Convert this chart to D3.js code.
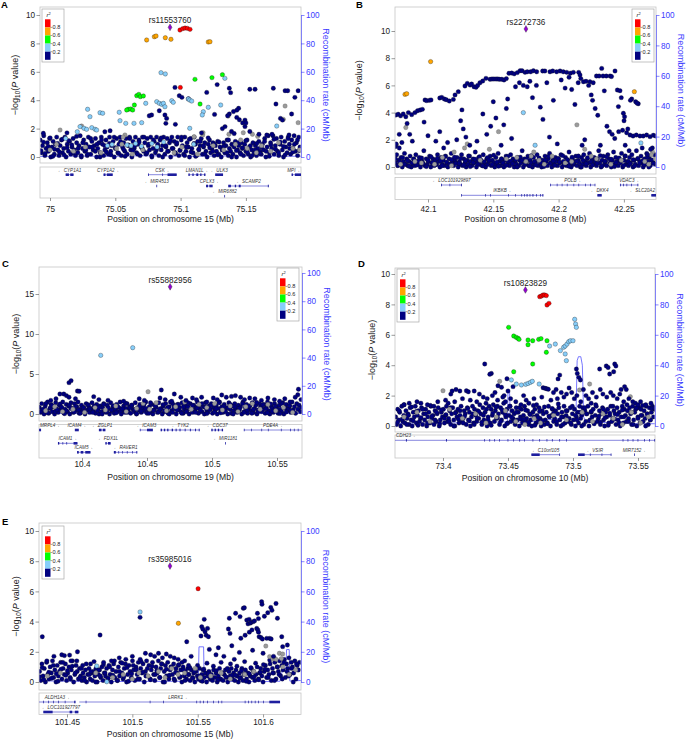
<!DOCTYPE html>
<html>
<head>
<meta charset="utf-8">
<script src="https://cdn.jsdelivr.net/npm/d3@7"></script>
<style>
  body { margin: 0; background: #fff; }
  text { font-family: "Liberation Sans", Arial, sans-serif; }
</style>
</head>
<body>
<svg id="fig" width="686" height="740"></svg>
<script>
// ---------- data ----------
const yTicks10 = [0, 2, 4, 6, 8, 10];
const yTicks15 = [0, 5, 10, 15];
const recTicks = [0, 20, 40, 60, 80, 100];
const ldBreaks = [0.8, 0.6, 0.4, 0.2];

// panel A: chr15, rs11553760
const xTicksA = [75, 75.05, 75.1, 75.15];
const aLead = [75.0919, 9.13];
const aRed = [[75.0995,8.94],[75.1016,9.04],[75.1034,9.08],[75.1052,9.06],[75.1072,8.99],[75.0998,4.9]];
const aOrange = [[75.0740,8.24],[75.0799,8.47],[75.0812,8.52],[75.0883,8.40],[75.0926,8.29],[75.1212,8.10],[75.1225,8.12]];
const aGreen = [[75.1110,5.47],[75.1240,5.59],[75.1320,5.80],[75.1149,3.73],[75.0664,4.32],[75.0680,4.41],[75.0692,4.25],[75.0715,4.30],[75.0646,3.66],[75.0600,3.36],[75.0618,3.38],[75.0587,3.31],[75.0633,3.31]];
const aBlue = [[75.0850,5.94],[75.0883,5.85],[75.1339,5.54],[75.0288,3.36],[75.0306,2.84],[75.0383,3.12],[75.0403,3.08],[75.0530,3.15],[75.0536,2.56],[75.0580,2.37],[75.0643,2.37],[75.0702,2.42],[75.0733,3.78],[75.0817,3.90],[75.0837,3.78],[75.0855,3.71],[75.0868,3.78],[75.0880,3.54],[75.0932,3.97],[75.0944,3.85],[75.1059,4.08],[75.1070,4.01],[75.1085,3.94],[75.1174,3.19],[75.1166,2.96],[75.1212,3.50],[75.1307,3.66],[75.1070,2.02],[75.0230,2.14],[75.0260,2.02],[75.0280,1.95],[75.0320,2.07],[75.0345,1.95],[75.0357,1.90],[75.0209,1.78],[75.1736,2.18],[75.0590,0.85],[75.0620,0.80],[75.0655,0.95],[75.0700,0.75],[75.0780,0.95],[75.0820,0.70],[75.0870,1.05],[75.1100,0.90],[75.0440,0.80],[75.0475,0.88],[75.0120,1.30]];
const aNavyHigh = [[75.0957,4.90],[75.0990,4.32],[75.0778,2.96],[75.0837,3.26],[75.0880,2.96],[75.0893,2.72],[75.0887,2.37],[75.1200,4.55],[75.1280,5.10],[75.1373,4.84],[75.1383,4.53],[75.1444,3.43],[75.1430,3.30],[75.1405,3.20],[75.1373,3.03],[75.1360,2.90],[75.1340,2.14],[75.1430,2.79],[75.1450,2.62],[75.1493,2.60],[75.1475,2.40],[75.1493,2.14],[75.1500,2.40],[75.1530,4.77],[75.1570,4.77],[75.1710,4.84],[75.1800,4.67],[75.1820,4.67],[75.1875,4.20],[75.1900,4.67],[75.1730,3.73],[75.1765,2.72],[75.1780,2.60],[75.1850,3.03],[74.9949,1.67],[75.0420,1.78],[75.0460,1.85],[75.0130,1.70],[75.1010,4.20],[75.1060,4.10],[75.0760,2.90],[75.0960,2.30],[75.1260,3.00],[75.1320,2.00],[75.1390,1.80],[75.1410,1.65],[75.1160,1.70],[75.1530,1.80],[75.1600,1.60],[75.1660,1.55],[75.1700,1.60],[75.1830,1.55]];
const aGray = [[75.0077,1.90],[75.0242,2.18],[75.0574,1.55],[75.0560,1.40],[75.1103,1.43],[75.1170,1.55],[75.1172,1.71],[75.1365,2.89],[75.1370,1.60],[75.1480,1.71],[75.1550,1.60],[75.1590,1.45],[75.1800,3.59],[75.1787,2.65],[75.1900,2.42],[75.1910,0.50],[75.0000,0.50],[75.0050,0.90],[75.0180,0.40],[75.0270,0.70],[75.0390,0.30],[75.0510,0.60],[75.0550,0.90],[75.0630,0.20],[75.0710,0.50],[75.0950,0.30],[75.1010,0.70],[75.1130,0.20],[75.1250,0.80],[75.1330,0.50],[75.1420,0.90],[75.1460,1.20],[75.1510,0.60],[75.1580,0.30],[75.1620,0.80],[75.1690,0.40],[75.1750,1.00],[75.1860,0.60]];
const aNavy = [[74.9925,1.2],[74.9934,0.3],[74.9943,0.8],[74.9952,1.5],[74.9961,0.1],[74.9970,0.6],[74.9979,1.0],[74.9988,0.4],[74.9997,1.3],[75.0006,0.0],[75.0015,0.7],[75.0024,1.1],[75.0033,0.2],[75.0042,0.9],[75.0051,1.4],[75.0060,0.5],[75.0069,0.1],[75.0078,0.8],[75.0087,1.2],[75.0096,0.3],[75.0105,0.6],[75.0114,1.4],[75.0123,0.0],[75.0132,0.9],[75.0141,0.4],[75.0150,1.1],[75.0159,0.2],[75.0168,0.7],[75.0177,1.3],[75.0186,0.5],[75.0195,0.1],[75.0204,1.0],[75.0213,0.3],[75.0222,0.8],[75.0231,1.5],[75.0240,0.0],[75.0249,0.6],[75.0258,1.2],[75.0267,0.4],[75.0276,0.9],[75.0285,0.1],[75.0294,1.4],[75.0303,0.7],[75.0312,0.2],[75.0321,1.1],[75.0330,0.5],[75.0339,0.8],[75.0348,1.3],[75.0357,0.0],[75.0366,0.6],[75.0375,1.0],[75.0384,0.3],[75.0393,1.4],[75.0402,0.9],[75.0411,0.1],[75.0420,0.5],[75.0429,1.2],[75.0438,0.7],[75.0447,0.2],[75.0456,1.4],[75.0465,0.4],[75.0474,0.8],[75.0483,1.1],[75.0492,0.0],[75.0501,0.6],[75.0510,1.3],[75.0519,0.3],[75.0528,0.9],[75.0537,1.4],[75.0546,0.1],[75.0555,0.7],[75.0564,1.0],[75.0573,0.4],[75.0582,1.3],[75.0591,0.2],[75.0600,0.8],[75.0609,1.4],[75.0618,0.5],[75.0627,0.0],[75.0636,1.1],[75.0645,0.6],[75.0654,1.4],[75.0663,0.3],[75.0672,0.9],[75.0681,1.2],[75.0690,0.1],[75.0699,0.7],[75.0708,1.4],[75.0717,0.4],[75.0726,1.0],[75.0735,0.2],[75.0744,1.3],[75.0753,0.8],[75.0762,0.5],[75.0771,1.4],[75.0780,0.0],[75.0789,0.6],[75.0798,1.1],[75.0807,0.3],[75.0816,1.4],[75.0825,0.9],[75.0834,0.1],[75.0843,1.2],[75.0852,0.5],[75.0861,0.8],[75.0870,1.4],[75.0879,0.2],[75.0888,0.7],[75.0897,1.3],[75.0906,0.4],[75.0915,1.0],[75.0924,0.0],[75.0933,1.4],[75.0942,0.6],[75.0951,1.1],[75.0960,0.3],[75.0969,0.9],[75.0978,1.4],[75.0987,0.1],[75.0996,0.5],[75.1005,1.2],[75.1014,0.8],[75.1023,0.2],[75.1032,1.4],[75.1041,0.4],[75.1050,1.0],[75.1059,0.7],[75.1068,0.0],[75.1077,1.3],[75.1086,0.6],[75.1095,0.3],[75.1104,1.4],[75.1113,0.9],[75.1122,0.1],[75.1131,1.1],[75.1140,0.5],[75.1149,0.8],[75.1158,1.3],[75.1167,0.2],[75.1176,0.7],[75.1185,1.0],[75.1194,0.4],[75.1203,0.0],[75.1212,0.9],[75.1221,1.2],[75.1230,0.3],[75.1239,0.6],[75.1248,1.0],[75.1257,0.1],[75.1266,0.8],[75.1275,0.4],[75.1284,1.1],[75.1293,0.2],[75.1302,0.7],[75.1311,0.0],[75.1320,0.5],[75.1329,1.0],[75.1338,0.3],[75.1347,0.8],[75.1356,1.2],[75.1365,0.1],[75.1374,0.6],[75.1383,0.4],[75.1392,0.9],[75.1401,0.2],[75.1410,0.7],[75.1419,1.1],[75.1428,0.0],[75.1437,0.5],[75.1446,0.8],[75.1455,0.3],[75.1464,1.0],[75.1473,0.6],[75.1482,0.1],[75.1491,0.9],[75.1500,0.4],[75.1509,1.2],[75.1518,0.2],[75.1527,0.7],[75.1536,0.0],[75.1545,0.5],[75.1554,1.0],[75.1563,0.3],[75.1572,0.8],[75.1581,0.1],[75.1590,0.6],[75.1599,1.1],[75.1608,0.4],[75.1617,0.2],[75.1626,0.9],[75.1635,0.5],[75.1644,1.3],[75.1653,0.0],[75.1662,0.7],[75.1671,1.5],[75.1680,0.3],[75.1689,1.0],[75.1698,0.6],[75.1707,1.5],[75.1716,0.2],[75.1725,0.8],[75.1734,1.3],[75.1743,0.4],[75.1752,0.1],[75.1761,0.9],[75.1770,1.4],[75.1779,0.5],[75.1788,0.0],[75.1797,1.1],[75.1806,0.7],[75.1815,0.3],[75.1824,1.4],[75.1833,0.9],[75.1842,0.2],[75.1851,1.2],[75.1860,0.6],[75.1869,1.5],[75.1878,0.4],[75.1887,1.0],[75.1896,0.1],[75.1905,1.4],[75.1914,0.7]];
const aNavy2 = [[74.9931,0.45],[74.9950,1.05],[74.9963,0.25],[74.9986,0.75],[75.0001,1.35],[75.0022,0.05],[75.0035,0.55],[75.0058,0.95],[75.0071,0.35],[75.0094,1.25],[75.0108,0.15],[75.0131,0.65],[75.0143,1.15],[75.0167,0.85],[75.0180,0.30],[75.0203,1.45],[75.0215,0.60],[75.0239,0.10],[75.0251,1.00],[75.0275,0.50],[75.0287,0.20],[75.0311,1.30],[75.0323,0.70],[75.0347,0.40],[75.0360,0.90],[75.0383,0.00],[75.0395,1.20],[75.0419,0.80],[75.0431,0.35],[75.0455,0.95],[75.0467,0.15],[75.0491,1.40],[75.0503,0.65],[75.0527,0.25],[75.0540,1.10],[75.0563,0.55],[75.0575,0.05],[75.0599,0.85],[75.0611,1.30],[75.0635,0.45],[75.0647,0.75],[75.0671,0.20],[75.0683,1.05],[75.0707,0.60],[75.0720,1.40],[75.0743,0.30],[75.0755,0.90],[75.0779,0.10],[75.0791,1.20],[75.0815,0.50],[75.0827,0.70],[75.0851,1.35],[75.0863,0.00],[75.0887,0.80],[75.0900,0.40],[75.0923,1.15],[75.0935,0.60],[75.0959,0.25],[75.0971,1.00],[75.0995,0.45],[75.1007,1.40],[75.1031,0.10],[75.1043,0.70],[75.1067,1.25],[75.1080,0.35],[75.1103,0.95],[75.1115,0.05],[75.1139,0.55],[75.1151,1.10],[75.1175,0.80],[75.1187,0.20],[75.1211,1.35],[75.1223,0.65],[75.1247,0.40],[75.1260,0.90],[75.1283,0.15],[75.1295,1.05],[75.1319,0.50],[75.1331,0.75],[75.1355,0.30],[75.1367,1.20],[75.1391,0.00],[75.1403,0.85],[75.1427,0.45],[75.1440,1.00],[75.1463,0.20],[75.1475,0.65],[75.1499,1.15],[75.1511,0.35],[75.1535,0.80],[75.1547,0.10],[75.1571,0.50],[75.1583,0.95],[75.1607,0.25],[75.1620,0.70],[75.1643,1.10],[75.1655,0.40],[75.1679,0.05],[75.1691,0.85],[75.1715,1.25],[75.1727,0.55],[75.1751,0.30],[75.1763,1.05],[75.1787,0.75],[75.1800,0.15],[75.1823,1.30],[75.1835,0.60],[75.1859,0.35],[75.1871,0.90],[75.1895,1.20],[75.1907,0.45]];
const aRecomb = [[74.9923,0.4],[75.02,0.6],[75.05,0.5],[75.07,0.9],[75.09,0.7],[75.11,0.5],[75.14,0.8],[75.17,0.6],[75.1922,0.5]];
const genesA = [
  { name: "CYP1A1", strand: "-", row: 0, start: 75.0120, end: 75.0180, exons: [[75.0120,75.0145],[75.0155,75.0180]] },
  { name: "CYP1A2", strand: "+", row: 0, start: 75.0410, end: 75.0480, exons: [[75.0410,75.0425],[75.0435,75.0480]] },
  { name: "CSK", strand: "+", row: 0, start: 75.0750, end: 75.0970, exons: [[75.0752,75.0758],[75.0860,75.0865],[75.0900,75.0970]] },
  { name: "LMAN1L", strand: "+", row: 0, start: 75.1060, end: 75.1190, exons: [[75.1060,75.1070],[75.1090,75.1100],[75.1120,75.1135],[75.1150,75.1160],[75.1180,75.1190]] },
  { name: "ULK3", strand: "-", row: 0, start: 75.1265, end: 75.1325, exons: [[75.1265,75.1325]] },
  { name: "MPI", strand: "+", row: 0, start: 75.1850, end: 75.1930, exons: [[75.1850,75.1860],[75.1875,75.1930]] },
  { name: "MIR4513", strand: "-", row: 1, start: 75.0815, end: 75.0818, exons: [[75.0815,75.0818]] },
  { name: "CPLX3", strand: "+", row: 1, start: 75.1195, end: 75.1245, exons: [[75.1195,75.1210],[75.1220,75.1245]] },
  { name: "SCAMP2", strand: "-", row: 1, start: 75.1365, end: 75.1675, exons: [[75.1365,75.1385],[75.1415,75.1425],[75.1445,75.1460],[75.1668,75.1675]] },
  { name: "MIR6882", strand: "-", row: 2, start: 75.1335, end: 75.1338, exons: [[75.1335,75.1338]] }
];

// panel B: chr8, rs2272736
const xTicksB = [42.1, 42.15, 42.2, 42.25];
const bLead = [42.1750, 10.15];
const bRed = [];
const bOrange = [[42.0824,5.34],[42.0837,5.39],[42.1020,7.75],[42.2580,5.54]];
const bGreen = [];
const bBlue = [[42.1730,4.00],[42.1820,1.60],[42.2630,1.77]];
const bNavyHigh = [[42.0752,1.50],[42.0756,1.69],[42.0780,1.40],[42.0754,3.82],[42.0772,3.88],[42.0790,3.76],[42.0810,3.90],[42.0850,4.00],[42.0875,3.85],[42.0900,4.00],[42.0920,4.14],[42.0940,4.19],[42.0957,4.24],[42.0830,3.70],[42.0977,4.93],[42.0990,4.88],[42.1010,4.90],[42.1023,4.93],[42.1090,5.07],[42.1105,5.12],[42.1125,5.00],[42.1140,4.95],[42.1163,4.85],[42.1194,4.97],[42.1207,5.30],[42.1232,5.54],[42.1283,5.96],[42.1301,6.15],[42.1322,6.03],[42.1334,6.10],[42.1352,5.90],[42.1368,5.86],[42.1380,6.00],[42.1398,6.20],[42.1419,6.32],[42.1444,6.52],[42.1475,6.45],[42.1490,6.47],[42.1505,6.47],[42.1521,6.47],[42.1535,6.47],[42.1548,6.45],[42.1565,6.45],[42.1582,6.40],[42.1600,6.50],[42.1620,6.89],[42.1641,6.91],[42.1660,6.85],[42.1684,6.94],[42.1705,7.08],[42.1720,7.08],[42.1743,6.96],[42.1760,7.00],[42.1786,7.00],[42.1807,7.08],[42.1832,7.00],[42.1878,7.06],[42.1895,7.06],[42.1934,7.00],[42.1955,7.06],[42.1985,7.00],[42.2011,7.06],[42.2036,7.00],[42.2062,6.96],[42.2090,6.90],[42.2113,6.96],[42.2154,6.96],[42.2164,6.76],[42.2170,6.50],[42.2190,6.27],[42.2210,6.30],[42.2240,6.27],[42.2265,6.20],[42.2290,6.69],[42.2310,6.69],[42.2330,7.25],[42.2340,6.69],[42.2365,6.69],[42.2394,6.69],[42.2405,6.65],[42.2432,7.06],[42.2450,5.66],[42.2470,5.61],[42.2480,5.10],[42.2458,4.44],[42.2496,3.95],[42.2505,3.70],[42.2501,3.40],[42.2521,2.52],[42.2530,2.80],[42.2547,2.35],[42.2570,2.28],[42.2595,2.35],[42.2623,2.28],[42.2648,2.28],[42.2674,2.35],[42.2700,2.23],[42.2725,2.33],[42.2743,2.28],[42.2560,5.00],[42.2590,4.80],[42.2610,4.65],[42.2550,4.90],[42.0840,3.20],[42.0860,2.40],[42.0880,1.90],[42.0780,2.40],[42.0800,1.80],[42.0970,3.30],[42.1000,2.30],[42.1060,1.90],[42.1090,2.60],[42.1120,1.40],[42.1150,1.80],[42.1220,2.00],[42.1260,4.20],[42.1250,3.40],[42.1270,2.80],[42.1290,2.20],[42.1320,1.60],[42.1375,1.90],[42.1420,3.90],[42.1450,2.40],[42.1480,3.00],[42.1500,4.80],[42.1520,3.60],[42.1560,1.60],[42.1580,3.10],[42.1600,4.30],[42.1610,5.00],[42.1640,2.10],[42.1670,5.90],[42.1700,6.20],[42.1730,6.00],[42.1760,5.90],[42.1780,6.30],[42.1800,5.10],[42.1830,6.00],[42.1860,4.40],[42.1880,3.50],[42.1910,6.20],[42.1930,2.20],[42.1960,4.90],[42.1990,1.70],[42.2020,6.40],[42.2050,5.80],[42.2080,6.60],[42.2100,5.70],[42.2125,4.60],[42.2150,6.20],[42.2180,1.60],[42.2200,2.00],[42.2230,6.00],[42.2250,5.30],[42.2260,4.90],[42.2280,4.30],[42.2300,3.80],[42.2320,1.60],[42.2350,5.60],[42.2370,3.00],[42.2390,2.60],[42.2410,2.40],[42.2430,2.10],[42.2460,2.60],[42.2490,2.70],[42.2510,1.60],[42.2540,1.20],[42.2600,4.70],[42.2640,1.40],[42.2680,0.90],[42.2705,1.30]];
const bGray = [[42.0760,1.60],[42.0830,2.90],[42.2140,3.10],[42.1540,2.60],[42.1300,1.70],[42.1280,1.40],[42.1470,1.30],[42.1200,1.10],[42.1110,0.70],[42.0900,0.40],[42.0950,0.30],[42.1050,0.20],[42.1400,0.50],[42.1600,0.60],[42.1680,0.70],[42.1750,0.40],[42.1790,0.80],[42.1810,1.10],[42.1850,0.50],[42.1950,0.80],[42.2050,0.30],[42.2100,0.40],[42.2200,1.30],[42.2250,0.80],[42.2290,0.60],[42.2400,0.20],[42.2480,0.50],[42.2660,0.40],[42.2690,0.20],[42.2720,1.10],[42.2740,0.60],[42.2710,0.90],[42.1890,0.20],[42.1180,0.10],[42.0790,0.20]];
const bNavy = [[42.0752,0.3],[42.0760,0.9],[42.0768,0.1],[42.0777,0.5],[42.0786,0.2],[42.0794,0.7],[42.0803,0.0],[42.0811,0.4],[42.0820,1.0],[42.0829,0.2],[42.0837,0.6],[42.0846,0.1],[42.0855,0.4],[42.0863,0.8],[42.0872,0.0],[42.0881,0.3],[42.0890,0.6],[42.0898,0.1],[42.0907,0.9],[42.0916,0.4],[42.0925,0.2],[42.0933,0.7],[42.0942,0.0],[42.0951,0.5],[42.0960,0.3],[42.0968,1.2],[42.0977,0.1],[42.0986,0.6],[42.0995,0.2],[42.1003,0.4],[42.1012,0.8],[42.1021,0.0],[42.1030,0.3],[42.1038,0.6],[42.1047,0.1],[42.1056,0.5],[42.1065,0.2],[42.1073,0.9],[42.1082,0.4],[42.1091,0.0],[42.1100,0.7],[42.1108,0.2],[42.1117,0.5],[42.1126,0.1],[42.1135,0.8],[42.1143,0.3],[42.1152,0.0],[42.1161,0.6],[42.1170,0.2],[42.1178,1.0],[42.1187,0.4],[42.1196,0.1],[42.1205,0.5],[42.1213,0.3],[42.1222,0.7],[42.1231,0.0],[42.1240,0.4],[42.1248,0.2],[42.1257,0.9],[42.1266,0.1],[42.1275,0.6],[42.1283,0.3],[42.1292,0.0],[42.1301,0.5],[42.1310,0.2],[42.1318,0.8],[42.1327,0.4],[42.1336,0.1],[42.1345,0.6],[42.1353,0.3],[42.1362,1.1],[42.1371,0.0],[42.1380,0.4],[42.1388,0.7],[42.1397,0.2],[42.1406,0.5],[42.1415,0.1],[42.1423,0.9],[42.1432,0.3],[42.1441,0.0],[42.1450,0.6],[42.1458,0.2],[42.1467,0.4],[42.1476,0.8],[42.1485,0.1],[42.1493,0.5],[42.1502,0.3],[42.1511,0.0],[42.1520,0.7],[42.1528,0.2],[42.1537,1.0],[42.1546,0.4],[42.1555,0.1],[42.1563,0.6],[42.1572,0.3],[42.1581,0.0],[42.1590,0.5],[42.1598,0.8],[42.1607,0.2],[42.1616,0.4],[42.1625,0.1],[42.1633,0.9],[42.1642,0.3],[42.1651,0.6],[42.1660,0.0],[42.1668,0.4],[42.1677,0.2],[42.1686,0.7],[42.1695,0.1],[42.1703,0.5],[42.1712,0.3],[42.1721,1.2],[42.1730,0.0],[42.1738,0.6],[42.1747,0.2],[42.1756,0.4],[42.1765,0.8],[42.1773,0.1],[42.1782,0.5],[42.1791,0.3],[42.1800,0.0],[42.1808,0.7],[42.1817,0.2],[42.1826,0.4],[42.1835,0.9],[42.1843,0.1],[42.1852,0.6],[42.1861,0.3],[42.1870,0.0],[42.1878,0.5],[42.1887,0.2],[42.1896,0.8],[42.1905,0.4],[42.1913,0.1],[42.1922,0.6],[42.1931,1.0],[42.1940,0.3],[42.1948,0.0],[42.1957,0.5],[42.1966,0.2],[42.1975,0.7],[42.1983,0.4],[42.1992,0.1],[42.2001,0.6],[42.2010,0.3],[42.2018,0.9],[42.2027,0.0],[42.2036,0.4],[42.2045,0.2],[42.2053,0.7],[42.2062,0.1],[42.2071,0.5],[42.2080,1.1],[42.2088,0.3],[42.2097,0.0],[42.2106,0.6],[42.2115,0.2],[42.2123,0.4],[42.2132,0.8],[42.2141,0.1],[42.2150,0.5],[42.2158,0.3],[42.2167,0.0],[42.2176,0.7],[42.2185,0.2],[42.2193,0.9],[42.2202,0.4],[42.2211,0.1],[42.2220,0.6],[42.2228,0.3],[42.2237,1.0],[42.2246,0.0],[42.2255,0.5],[42.2263,0.2],[42.2272,0.7],[42.2281,0.4],[42.2290,0.1],[42.2298,0.6],[42.2307,1.2],[42.2316,0.3],[42.2325,0.0],[42.2333,0.5],[42.2342,0.8],[42.2351,0.2],[42.2360,0.4],[42.2368,0.1],[42.2377,0.9],[42.2386,0.6],[42.2395,0.3],[42.2403,0.0],[42.2412,0.5],[42.2421,1.1],[42.2430,0.2],[42.2438,0.7],[42.2447,0.4],[42.2456,0.1],[42.2465,0.6],[42.2473,0.3],[42.2482,1.0],[42.2491,0.0],[42.2500,0.5],[42.2508,0.8],[42.2517,0.2],[42.2526,0.4],[42.2535,0.1],[42.2543,0.7],[42.2552,0.3],[42.2561,0.9],[42.2570,0.0],[42.2578,0.5],[42.2587,0.2],[42.2596,1.2],[42.2605,0.6],[42.2613,0.1],[42.2622,0.4],[42.2631,0.8],[42.2640,0.3],[42.2648,0.0],[42.2657,0.6],[42.2666,0.2],[42.2675,1.0],[42.2683,0.4],[42.2692,0.7],[42.2701,0.1],[42.2710,0.5],[42.2718,1.4],[42.2727,0.3],[42.2736,0.9],[42.2745,0.2]];
const bNavy2 = [[42.0751,0.60],[42.0770,0.12],[42.0783,0.39],[42.0806,0.69],[42.0821,0.21],[42.0842,0.48],[42.0855,0.06],[42.0878,0.30],[42.0891,0.57],[42.0914,0.15],[42.0928,0.42],[42.0951,0.66],[42.0963,0.24],[42.0987,0.03],[42.1000,0.51],[42.1023,0.75],[42.1035,0.33],[42.1059,0.18],[42.1071,0.63],[42.1095,0.45],[42.1107,0.09],[42.1131,0.78],[42.1143,0.36],[42.1167,0.21],[42.1180,0.54],[42.1203,0.72],[42.1215,0.27],[42.1239,0.27],[42.1251,0.63],[42.1275,0.15],[42.1287,0.45],[42.1311,0.81],[42.1323,0.03],[42.1347,0.33],[42.1360,0.57],[42.1383,0.21],[42.1395,0.75],[42.1419,0.09],[42.1431,0.39],[42.1455,0.69],[42.1467,0.51],[42.1491,0.18],[42.1503,0.87],[42.1527,0.36],[42.1540,0.06],[42.1563,0.60],[42.1575,0.30],[42.1599,0.12],[42.1611,0.78],[42.1635,0.42],[42.1647,0.24],[42.1671,0.54],[42.1683,0.00],[42.1707,0.72],[42.1720,0.48],[42.1743,0.21],[42.1755,0.57],[42.1779,0.09],[42.1791,0.84],[42.1815,0.39],[42.1827,0.15],[42.1851,0.66],[42.1863,0.33],[42.1887,0.03],[42.1900,0.51],[42.1923,0.78],[42.1935,0.27],[42.1959,0.45],[42.1971,0.12],[42.1995,0.63],[42.2007,0.36],[42.2031,0.84],[42.2043,0.18],[42.2067,0.54],[42.2080,0.06],[42.2103,0.72],[42.2115,0.30],[42.2139,0.42],[42.2151,0.81],[42.2175,0.00],[42.2187,0.48],[42.2211,0.24],[42.2223,0.69],[42.2247,0.36],[42.2260,0.15],[42.2283,0.60],[42.2295,0.27],[42.2319,0.84],[42.2331,0.06],[42.2355,0.42],[42.2367,0.75],[42.2391,0.21],[42.2403,0.57],[42.2427,0.03],[42.2440,0.33],[42.2463,0.66],[42.2475,0.48],[42.2499,0.12],[42.2511,0.81],[42.2535,0.39],[42.2547,0.24],[42.2571,0.54],[42.2583,0.09],[42.2607,0.63],[42.2620,0.30],[42.2643,0.45],[42.2655,0.18],[42.2679,0.72],[42.2691,0.00],[42.2715,0.51],[42.2727,0.27]];
const bRecomb = [[42.0747,0.6],[42.1,0.5],[42.13,0.4],[42.16,0.5],[42.19,0.6],[42.22,0.5],[42.25,0.7],[42.2746,0.6]];
const genesB = [
  { name: "LOC101929897", strand: "-", row: 0, start: 42.1100, end: 42.1260, exons: [[42.1100,42.1106],[42.1165,42.1170],[42.1254,42.1260]] },
  { name: "POLB", strand: "+", row: 0, start: 42.1935, end: 42.2280, exons: [[42.1935,42.1940],[42.1986,42.1990],[42.2024,42.2028],[42.2063,42.2067],[42.2114,42.2118],[42.2152,42.2156],[42.2203,42.2207],[42.2242,42.2246],[42.2276,42.2280]] },
  { name: "VDAC3", strand: "+", row: 0, start: 42.2470, end: 42.2610, exons: [[42.2470,42.2476],[42.2495,42.2500],[42.2520,42.2525],[42.2555,42.2560],[42.2604,42.2610]] },
  { name: "IKBKB", strand: "+", row: 1, start: 42.1255, end: 42.1883, exons: [[42.1255,42.1260],[42.1437,42.1441],[42.1475,42.1479],[42.1613,42.1617],[42.1667,42.1671],[42.1715,42.1720],[42.1735,42.1740],[42.1755,42.1762],[42.1778,42.1783],[42.1800,42.1807],[42.1828,42.1832],[42.1858,42.1862],[42.1876,42.1883]] },
  { name: "DKK4", strand: "-", row: 1, start: 42.2297, end: 42.2330, exons: [[42.2297,42.2330]] },
  { name: "SLC20A2", strand: "-", row: 1, start: 42.2710, end: 42.2780, exons: [[42.2710,42.2780]] }
];

// panel C: chr19, rs55882956
const xTicksC = [10.4, 10.45, 10.5, 10.55];
const cLead = [10.4678, 15.9];
const cRed = [];
const cOrange = [];
const cGreen = [];
const cBlue = [[10.4144,7.33],[10.4390,8.29]];
const cNavyHigh = [[10.3900,3.92],[10.3916,4.17],[10.3965,2.87],[10.3978,2.85],[10.4610,3.00],[10.4710,2.50],[10.5665,3.10],[10.5660,2.40],[10.3830,2.50],[10.3860,2.50],[10.3880,2.30],[10.3900,2.10],[10.4090,2.17],[10.3950,1.90],[10.3760,1.70],[10.3800,1.90],[10.4130,1.80],[10.4200,1.70],[10.4320,1.60],[10.4440,1.90],[10.4480,1.70],[10.4600,2.00],[10.4640,1.80],[10.4690,1.60],[10.4760,2.10],[10.4800,1.70],[10.4850,2.00],[10.4880,1.80],[10.4920,2.10],[10.4960,1.50],[10.5010,2.00],[10.5040,1.80],[10.5075,2.38],[10.5110,2.10],[10.5150,2.20],[10.5180,2.30],[10.5220,2.10],[10.5250,1.80],[10.5290,2.00],[10.5330,1.90],[10.5380,1.70],[10.5430,2.00],[10.5480,1.80],[10.5520,1.60],[10.5560,1.90],[10.5600,1.50],[10.5640,2.10],[10.5685,1.80]];
const cGray = [[10.4508,2.79],[10.3720,0.4],[10.3790,0.9],[10.3850,0.3],[10.3930,0.6],[10.4020,0.2],[10.4100,0.8],[10.4180,0.5],[10.4260,1.0],[10.4340,0.3],[10.4420,0.7],[10.4470,1.3],[10.4520,0.6],[10.4570,1.4],[10.4650,0.4],[10.4720,0.9],[10.4790,1.5],[10.4840,0.6],[10.4900,1.2],[10.4960,0.8],[10.5020,1.3],[10.5080,0.5],[10.5140,1.0],[10.5200,0.3],[10.5260,0.9],[10.5310,1.3],[10.5370,0.6],[10.5430,1.2],[10.5490,0.4],[10.5550,0.8],[10.5620,0.2]];
const cNavy = [[10.3672,0.8],[10.3681,0.2],[10.3690,1.3],[10.3699,0.5],[10.3708,0.0],[10.3717,1.0],[10.3726,0.4],[10.3735,1.5],[10.3744,0.1],[10.3753,0.7],[10.3762,1.2],[10.3771,0.3],[10.3780,0.9],[10.3789,0.0],[10.3798,1.4],[10.3807,0.6],[10.3816,0.2],[10.3825,1.1],[10.3834,0.5],[10.3843,0.8],[10.3852,1.5],[10.3861,0.1],[10.3870,0.6],[10.3879,1.2],[10.3888,0.3],[10.3897,1.0],[10.3906,0.0],[10.3915,1.4],[10.3924,0.7],[10.3933,0.2],[10.3942,1.3],[10.3951,0.4],[10.3960,0.9],[10.3969,1.5],[10.3978,0.1],[10.3987,0.6],[10.3996,1.1],[10.4005,0.3],[10.4014,0.8],[10.4023,0.0],[10.4032,1.3],[10.4041,0.5],[10.4050,1.0],[10.4059,0.2],[10.4068,0.7],[10.4077,1.4],[10.4086,0.4],[10.4095,0.9],[10.4104,0.1],[10.4113,1.2],[10.4122,0.6],[10.4131,0.0],[10.4140,1.0],[10.4149,0.3],[10.4158,0.8],[10.4167,1.3],[10.4176,0.5],[10.4185,0.2],[10.4194,1.1],[10.4203,0.7],[10.4212,0.0],[10.4221,1.4],[10.4230,0.4],[10.4239,0.9],[10.4248,0.1],[10.4257,0.6],[10.4266,1.2],[10.4275,0.3],[10.4284,0.8],[10.4293,1.5],[10.4302,0.0],[10.4311,0.5],[10.4320,1.0],[10.4329,0.2],[10.4338,0.7],[10.4347,1.3],[10.4356,0.4],[10.4365,0.9],[10.4374,0.1],[10.4383,1.1],[10.4392,0.6],[10.4401,0.3],[10.4410,1.4],[10.4419,0.0],[10.4428,0.8],[10.4437,0.5],[10.4446,1.2],[10.4455,0.2],[10.4464,0.7],[10.4473,1.0],[10.4482,0.4],[10.4491,1.5],[10.4500,0.1],[10.4509,0.6],[10.4518,0.9],[10.4527,0.3],[10.4536,1.2],[10.4545,0.0],[10.4554,0.5],[10.4563,1.1],[10.4572,0.8],[10.4581,0.2],[10.4590,1.4],[10.4599,0.4],[10.4608,0.7],[10.4617,0.0],[10.4626,1.0],[10.4635,0.3],[10.4644,1.3],[10.4653,0.6],[10.4662,0.1],[10.4671,0.9],[10.4680,1.5],[10.4689,0.4],[10.4698,0.2],[10.4707,1.1],[10.4716,0.7],[10.4725,0.0],[10.4734,1.2],[10.4743,0.5],[10.4752,0.8],[10.4761,0.3],[10.4770,1.4],[10.4779,0.1],[10.4788,0.6],[10.4797,1.0],[10.4806,0.4],[10.4815,0.9],[10.4824,0.0],[10.4833,1.3],[10.4842,0.6],[10.4851,0.2],[10.4860,1.1],[10.4869,0.5],[10.4878,0.8],[10.4887,1.5],[10.4896,0.1],[10.4905,0.7],[10.4914,1.2],[10.4923,0.3],[10.4932,0.9],[10.4941,0.0],[10.4950,1.4],[10.4959,0.5],[10.4968,0.2],[10.4977,1.0],[10.4986,0.6],[10.4995,1.3],[10.5004,0.1],[10.5013,0.8],[10.5022,0.4],[10.5031,1.1],[10.5040,0.0],[10.5049,0.7],[10.5058,1.5],[10.5067,0.3],[10.5076,0.9],[10.5085,0.2],[10.5094,1.2],[10.5103,0.5],[10.5112,0.8],[10.5121,0.0],[10.5130,1.4],[10.5139,0.6],[10.5148,0.1],[10.5157,1.0],[10.5166,0.4],[10.5175,1.3],[10.5184,0.7],[10.5193,0.2],[10.5202,1.1],[10.5211,0.5],[10.5220,0.9],[10.5229,0.0],[10.5238,1.5],[10.5247,0.3],[10.5256,0.8],[10.5265,1.2],[10.5274,0.1],[10.5283,0.6],[10.5292,1.0],[10.5301,0.4],[10.5310,1.4],[10.5319,0.2],[10.5328,0.7],[10.5337,1.1],[10.5346,0.0],[10.5355,0.5],[10.5364,1.3],[10.5373,0.9],[10.5382,0.3],[10.5391,0.6],[10.5400,1.2],[10.5409,0.1],[10.5418,0.8],[10.5427,1.5],[10.5436,0.4],[10.5445,0.0],[10.5454,1.0],[10.5463,0.7],[10.5472,0.2],[10.5481,1.3],[10.5490,0.5],[10.5499,0.9],[10.5508,0.1],[10.5517,1.1],[10.5526,0.6],[10.5535,0.3],[10.5544,1.4],[10.5553,0.0],[10.5562,0.8],[10.5571,1.2],[10.5580,0.4],[10.5589,0.7],[10.5598,1.0],[10.5607,0.2],[10.5616,1.5],[10.5625,0.5],[10.5634,0.9],[10.5643,0.1],[10.5652,1.3],[10.5661,0.6],[10.5670,1.1],[10.5679,0.3],[10.5688,0.8]];
const cNavy2 = [[10.3631,0.45],[10.3650,1.20],[10.3663,0.90],[10.3686,0.35],[10.3701,0.60],[10.3722,1.30],[10.3735,0.15],[10.3758,0.75],[10.3771,1.05],[10.3794,0.30],[10.3808,0.55],[10.3831,1.25],[10.3843,0.85],[10.3867,0.05],[10.3880,0.40],[10.3903,1.10],[10.3915,0.70],[10.3939,0.25],[10.3951,0.95],[10.3975,0.50],[10.3987,0.10],[10.4011,0.80],[10.4023,0.35],[10.4047,1.15],[10.4060,0.65],[10.4083,0.20],[10.4095,1.00],[10.4119,0.45],[10.4131,0.85],[10.4155,0.00],[10.4167,1.20],[10.4191,0.30],[10.4203,0.75],[10.4227,0.50],[10.4240,1.05],[10.4263,0.15],[10.4275,0.90],[10.4299,0.40],[10.4311,0.65],[10.4335,1.35],[10.4347,0.20],[10.4371,0.80],[10.4383,1.10],[10.4407,0.55],[10.4420,0.05],[10.4443,0.95],[10.4455,0.35],[10.4479,1.25],[10.4491,0.70],[10.4515,0.10],[10.4527,1.40],[10.4551,0.45],[10.4563,1.00],[10.4587,0.25],[10.4600,0.60],[10.4623,1.15],[10.4635,0.40],[10.4659,0.80],[10.4671,0.00],[10.4695,1.35],[10.4707,0.70],[10.4731,0.50],[10.4743,1.20],[10.4767,0.10],[10.4780,0.90],[10.4803,0.30],[10.4815,1.40],[10.4839,0.60],[10.4851,1.05],[10.4875,0.20],[10.4887,0.75],[10.4911,0.45],[10.4923,1.30],[10.4947,0.85],[10.4960,0.05],[10.4983,0.55],[10.4995,1.10],[10.5019,0.25],[10.5031,0.65],[10.5055,1.40],[10.5067,0.15],[10.5091,0.95],[10.5103,0.35],[10.5127,0.80],[10.5140,1.20],[10.5163,0.00],[10.5175,0.90],[10.5199,0.40],[10.5211,0.70],[10.5235,1.30],[10.5247,0.20],[10.5271,0.50],[10.5283,1.00],[10.5307,0.10],[10.5320,0.60],[10.5343,1.45],[10.5355,0.30],[10.5379,0.85],[10.5391,1.15],[10.5415,0.65],[10.5427,0.15],[10.5451,1.25],[10.5463,0.35],[10.5487,0.95],[10.5500,0.55],[10.5523,0.05],[10.5535,1.35],[10.5559,0.75],[10.5571,0.25],[10.5595,1.05],[10.5607,0.45]];
const cRecomb = [[10.3669,0.3],[10.4,0.4],[10.43,0.3],[10.46,0.5],[10.49,0.4],[10.52,0.3],[10.55,0.5],[10.5692,0.4]];
const genesC = [
  { name: "MRPL4", strand: "+", row: 0, start: 10.3630, end: 10.3685, exons: [[10.3670,10.3685]] },
  { name: "ICAM4", strand: "+", row: 0, start: 10.3945, end: 10.3975, exons: [[10.3945,10.3975]] },
  { name: "ZGLP1", strand: "-", row: 0, start: 10.4130, end: 10.4180, exons: [[10.4130,10.4150],[10.4160,10.4180]] },
  { name: "ICAM3", strand: "-", row: 0, start: 10.4445, end: 10.4545, exons: [[10.4445,10.4450],[10.4500,10.4545]] },
  { name: "TYK2", strand: "-", row: 0, start: 10.4605, end: 10.4905, exons: [[10.4605,10.4615],[10.4630,10.4640],[10.4655,10.4665],[10.4690,10.4700],[10.4720,10.4728],[10.4750,10.4758],[10.4790,10.4797],[10.4830,10.4837],[10.4870,10.4877],[10.4898,10.4905]] },
  { name: "CDC37", strand: "-", row: 0, start: 10.4995, end: 10.5085, exons: [[10.4995,10.5005],[10.5020,10.5030],[10.5045,10.5055],[10.5075,10.5085]] },
  { name: "PDE4A", strand: "+", row: 0, start: 10.5245, end: 10.5720, exons: [[10.5245,10.5250],[10.5300,10.5305],[10.5380,10.5385],[10.5430,10.5435],[10.5530,10.5535],[10.5600,10.5605],[10.5630,10.5635],[10.5660,10.5665]] },
  { name: "ICAM1", strand: "+", row: 1, start: 10.3815, end: 10.3965, exons: [[10.3815,10.3825],[10.3850,10.3855],[10.3880,10.3885],[10.3935,10.3965]] },
  { name: "FDX1L", strand: "-", row: 1, start: 10.4180, end: 10.4220, exons: [[10.4180,10.4190],[10.4200,10.4220]] },
  { name: "MIR1181", strand: "-", row: 1, start: 10.5101, end: 10.5104, exons: [[10.5101,10.5104]] },
  { name: "ICAM5", strand: "+", row: 2, start: 10.3962, end: 10.4065, exons: [[10.3962,10.3975],[10.3990,10.4010],[10.4025,10.4065]] },
  { name: "RAVER1", strand: "-", row: 2, start: 10.4245, end: 10.4425, exons: [[10.4245,10.4260],[10.4280,10.4285],[10.4310,10.4315],[10.4345,10.4350],[10.4385,10.4390],[10.4418,10.4425]] }
];

// panel D: chr10, rs10823829
const xTicksD = [73.4, 73.45, 73.5, 73.55];
const dLead = [73.4634, 8.95];
const dRed = [[73.4744,8.51],[73.4757,8.55],[73.4770,8.62],[73.4782,8.62],[73.4795,8.58],[73.4800,7.96],[73.4815,8.07]];
const dOrange = [];
const dGreen = [[73.4505,6.49],[73.4544,5.92],[73.4564,5.83],[73.4577,5.77],[73.4585,5.70],[73.4654,5.66],[73.4654,5.35],[73.4690,5.61],[73.4736,5.70],[73.4754,5.75],[73.4800,5.61],[73.4795,4.85],[73.4690,4.08],[73.4544,3.57]];
const dBlue = [[73.4820,5.26],[73.4864,5.39],[73.4903,4.96],[73.4928,5.18],[73.4940,5.26],[73.4954,5.39],[73.4967,5.55],[73.4980,5.61],[73.5000,5.61],[73.5013,7.02],[73.5020,6.71],[73.5026,6.49],[73.4940,4.74],[73.4949,4.30],[73.4526,3.03],[73.4564,2.76],[73.4603,2.70],[73.4636,2.74],[73.4654,2.80],[73.4672,2.87],[73.4687,2.94],[73.4740,2.76]];
const dNavyHigh = [[73.4321,4.08],[73.4372,3.46],[73.4360,3.40],[73.4492,3.11],[73.4423,2.65],[73.4450,2.55],[73.4539,2.59],[73.4770,2.52],[73.4785,2.48],[73.4797,2.45],[73.4810,2.42],[73.5026,3.75],[73.5033,3.46],[73.5045,3.20],[73.5057,3.03],[73.5205,3.75],[73.5256,3.95],[73.5270,3.85],[73.5321,4.08],[73.5330,3.95],[73.5313,3.57],[73.5282,3.42],[73.5397,2.59],[73.5410,2.40],[73.4180,2.32],[73.4195,2.25],[73.4100,2.40],[73.4130,2.30],[73.4060,2.10],[73.4240,2.30],[73.4280,2.10],[73.4310,1.90],[73.4400,2.20],[73.4470,2.00],[73.4500,2.30],[73.4898,3.35],[73.4885,3.10],[73.4870,2.40],[73.4910,2.20],[73.4930,1.90],[73.4950,2.10],[73.4970,2.50],[73.4990,2.20],[73.5010,1.80],[73.5080,2.40],[73.5100,2.00],[73.5120,1.80],[73.5150,2.20],[73.5180,1.90],[73.5210,2.40],[73.5230,2.10],[73.5260,1.90],[73.5290,2.20],[73.5310,2.00],[73.5340,1.80],[73.5360,2.10],[73.5370,2.40],[73.5390,1.60],[73.5430,1.80],[73.5460,1.60],[73.5480,1.50],[73.5500,1.40],[73.5520,1.60],[73.5560,1.40],[73.5600,1.50],[73.5625,1.20],[73.3700,1.40],[73.3740,1.50],[73.3800,1.60],[73.3830,1.50],[73.3880,1.40],[73.3930,1.30],[73.3960,1.60],[73.4020,1.70],[73.4040,1.50],[73.4070,2.30],[73.4090,1.60],[73.4150,1.80],[73.4210,1.70],[73.4260,1.60],[73.4340,1.80],[73.4380,2.00],[73.4420,1.70],[73.4460,1.90],[73.4480,1.60],[73.4520,1.80],[73.4560,1.60],[73.4600,1.40],[73.4620,2.00],[73.4640,1.70],[73.4660,1.50],[73.4700,1.80],[73.4720,1.40],[73.4760,1.90],[73.4830,1.70],[73.4850,2.20],[73.4880,1.80],[73.5030,2.00],[73.5060,1.60],[73.5140,1.50]];
const dGray = [[73.4436,2.94],[73.4000,2.32],[73.5050,2.37],[73.5128,2.76],[73.5441,1.93],[73.3700,0.6],[73.3800,0.9],[73.3900,0.3],[73.4050,1.1],[73.4150,0.5],[73.4250,0.8],[73.4330,0.2],[73.4410,0.6],[73.4480,1.0],[73.4560,0.3],[73.4630,0.1],[73.4700,0.5],[73.4750,0.2],[73.4850,0.7],[73.4950,0.4],[73.5070,0.9],[73.5150,0.3],[73.5230,0.8],[73.5310,0.5],[73.5380,0.1],[73.5450,0.9],[73.5520,0.2],[73.5580,0.6]];
const dNavy = [[73.3635,0.6],[73.3643,0.1],[73.3651,1.1],[73.3659,0.4],[73.3667,0.9],[73.3675,0.0],[73.3683,1.3],[73.3691,0.3],[73.3699,0.7],[73.3707,0.2],[73.3715,1.0],[73.3723,0.5],[73.3731,0.8],[73.3739,0.1],[73.3747,1.2],[73.3755,0.4],[73.3763,0.0],[73.3771,0.9],[73.3779,0.6],[73.3787,1.3],[73.3795,0.2],[73.3803,0.7],[73.3811,1.0],[73.3819,0.3],[73.3827,0.5],[73.3835,1.2],[73.3843,0.1],[73.3851,0.8],[73.3859,0.4],[73.3867,1.1],[73.3875,0.0],[73.3883,0.6],[73.3891,0.9],[73.3899,0.2],[73.3907,1.3],[73.3915,0.5],[73.3923,0.7],[73.3931,0.1],[73.3939,1.0],[73.3947,0.3],[73.3955,0.8],[73.3963,1.2],[73.3971,0.0],[73.3979,0.4],[73.3987,0.9],[73.3995,0.6],[73.4003,1.1],[73.4011,0.2],[73.4019,0.7],[73.4027,1.3],[73.4035,0.3],[73.4043,0.5],[73.4051,1.0],[73.4059,0.1],[73.4067,0.8],[73.4075,1.2],[73.4083,0.4],[73.4091,0.0],[73.4099,0.9],[73.4107,0.6],[73.4115,1.1],[73.4123,0.2],[73.4131,0.7],[73.4139,1.3],[73.4147,0.3],[73.4155,0.5],[73.4163,1.0],[73.4171,0.8],[73.4179,0.1],[73.4187,1.2],[73.4195,0.4],[73.4203,0.9],[73.4211,0.0],[73.4219,0.6],[73.4227,1.3],[73.4235,0.2],[73.4243,1.1],[73.4251,0.7],[73.4259,0.3],[73.4267,1.0],[73.4275,0.5],[73.4283,1.4],[73.4291,0.8],[73.4299,0.1],[73.4307,1.2],[73.4315,0.4],[73.4323,0.9],[73.4331,1.5],[73.4339,0.0],[73.4347,0.6],[73.4355,1.3],[73.4363,0.2],[73.4371,1.1],[73.4379,0.7],[73.4387,1.4],[73.4395,0.3],[73.4403,1.0],[73.4411,0.5],[73.4419,1.3],[73.4427,0.8],[73.4435,0.1],[73.4443,1.2],[73.4451,0.4],[73.4459,0.9],[73.4467,1.5],[73.4475,0.0],[73.4483,0.6],[73.4491,1.1],[73.4499,0.2],[73.4507,0.7],[73.4515,1.3],[73.4523,0.3],[73.4531,1.0],[73.4539,0.5],[73.4547,0.8],[73.4555,0.1],[73.4563,1.2],[73.4571,0.4],[73.4579,0.9],[73.4587,0.0],[73.4595,0.6],[73.4603,1.1],[73.4611,0.2],[73.4619,0.7],[73.4627,1.3],[73.4635,0.3],[73.4643,0.5],[73.4651,1.0],[73.4659,0.1],[73.4667,0.8],[73.4675,0.4],[73.4683,0.0],[73.4691,0.9],[73.4699,0.6],[73.4707,1.1],[73.4715,0.2],[73.4723,0.7],[73.4731,0.3],[73.4739,1.2],[73.4747,0.5],[73.4755,0.0],[73.4763,1.0],[73.4771,0.8],[73.4779,0.1],[73.4787,0.4],[73.4795,0.9],[73.4803,0.2],[73.4811,1.3],[73.4819,0.6],[73.4827,0.0],[73.4835,0.7],[73.4843,1.1],[73.4851,0.3],[73.4859,0.5],[73.4867,1.0],[73.4875,0.1],[73.4883,0.8],[73.4891,1.2],[73.4899,0.4],[73.4907,0.0],[73.4915,0.9],[73.4923,0.6],[73.4931,1.3],[73.4939,0.2],[73.4947,0.7],[73.4955,1.0],[73.4963,0.3],[73.4971,0.5],[73.4979,1.2],[73.4987,0.1],[73.4995,0.8],[73.5003,0.4],[73.5011,1.1],[73.5019,0.0],[73.5027,0.6],[73.5035,0.9],[73.5043,0.2],[73.5051,1.3],[73.5059,0.5],[73.5067,0.7],[73.5075,1.2],[73.5083,0.1],[73.5091,1.0],[73.5099,0.3],[73.5107,0.8],[73.5115,1.3],[73.5123,0.0],[73.5131,0.4],[73.5139,0.9],[73.5147,0.6],[73.5155,1.1],[73.5163,0.2],[73.5171,0.7],[73.5179,1.3],[73.5187,0.3],[73.5195,0.5],[73.5203,1.0],[73.5211,0.1],[73.5219,0.8],[73.5227,1.2],[73.5235,0.4],[73.5243,0.0],[73.5251,0.9],[73.5259,0.6],[73.5267,1.1],[73.5275,0.2],[73.5283,0.7],[73.5291,1.3],[73.5299,0.3],[73.5307,0.5],[73.5315,1.0],[73.5323,0.8],[73.5331,0.1],[73.5339,1.2],[73.5347,0.4],[73.5355,0.9],[73.5363,0.0],[73.5371,0.6],[73.5379,1.3],[73.5387,0.2],[73.5395,1.1],[73.5403,0.7],[73.5411,0.3],[73.5419,1.0],[73.5427,0.5],[73.5435,1.2],[73.5443,0.8],[73.5451,0.1],[73.5459,1.3],[73.5467,0.4],[73.5475,0.9],[73.5483,1.1],[73.5491,0.0],[73.5499,0.6],[73.5507,1.2],[73.5515,0.2],[73.5523,1.1],[73.5531,0.7],[73.5539,0.3],[73.5547,1.0],[73.5555,0.5],[73.5563,1.3],[73.5571,0.8],[73.5579,0.1],[73.5587,1.2],[73.5595,0.4],[73.5603,0.9],[73.5611,1.3],[73.5619,0.6],[73.5627,1.1]];
const dNavy2 = [[73.3631,0.60],[73.3650,0.25],[73.3663,1.00],[73.3686,0.45],[73.3701,1.40],[73.3722,0.10],[73.3735,0.70],[73.3758,1.25],[73.3771,0.35],[73.3794,0.95],[73.3808,0.05],[73.3831,0.55],[73.3843,1.10],[73.3867,0.80],[73.3880,0.20],[73.3903,1.35],[73.3915,0.65],[73.3939,0.40],[73.3951,0.90],[73.3975,0.15],[73.3987,1.05],[73.4011,0.50],[73.4023,0.75],[73.4047,0.30],[73.4060,1.20],[73.4083,0.00],[73.4095,0.85],[73.4119,0.45],[73.4131,1.00],[73.4155,0.20],[73.4167,0.65],[73.4191,1.15],[73.4203,0.35],[73.4227,0.80],[73.4240,0.10],[73.4263,0.50],[73.4275,0.95],[73.4299,0.25],[73.4311,0.70],[73.4335,1.10],[73.4347,0.40],[73.4371,0.05],[73.4383,0.85],[73.4407,1.25],[73.4420,0.55],[73.4443,0.30],[73.4455,1.05],[73.4479,0.75],[73.4491,0.15],[73.4515,1.30],[73.4527,0.60],[73.4551,0.35],[73.4563,0.90],[73.4587,1.20],[73.4600,0.45],[73.4623,0.45],[73.4635,1.05],[73.4659,0.25],[73.4671,0.75],[73.4695,1.35],[73.4707,0.05],[73.4731,0.55],[73.4743,0.95],[73.4767,0.35],[73.4780,1.25],[73.4803,0.15],[73.4815,0.65],[73.4839,1.15],[73.4851,0.85],[73.4875,0.30],[73.4887,1.45],[73.4911,0.60],[73.4923,0.10],[73.4947,1.00],[73.4960,0.50],[73.4983,0.20],[73.4995,1.30],[73.5019,0.70],[73.5031,0.40],[73.5055,0.90],[73.5067,0.00],[73.5091,1.20],[73.5103,0.80],[73.5127,0.35],[73.5140,0.95],[73.5163,0.15],[73.5175,1.40],[73.5199,0.65],[73.5211,0.25],[73.5235,1.10],[73.5247,0.55],[73.5271,0.05],[73.5283,0.85],[73.5307,1.30],[73.5320,0.45],[73.5343,0.75],[73.5355,0.20],[73.5379,1.05],[73.5391,0.60],[73.5415,1.40],[73.5427,0.30],[73.5451,0.90],[73.5463,0.10],[73.5487,1.20],[73.5500,0.50],[73.5523,0.70],[73.5535,1.35],[73.5559,0.00],[73.5571,0.80],[73.5595,0.40],[73.5607,1.15]];
const dRecomb = [[73.3631,1.5],[73.38,2.0],[73.40,1.8],[73.42,2.3],[73.44,2.5],[73.4495,2.8],[73.4500,22.6],[73.4512,22.6],[73.4518,3.0],[73.46,2.5],[73.47,3.0],[73.48,4.0],[73.49,5.0],[73.50,4.2],[73.5022,3.8],[73.5032,43.0],[73.5042,45.6],[73.5060,45.6],[73.5072,40.0],[73.5082,6.0],[73.5095,3.5],[73.52,2.5],[73.53,2.0],[73.5325,8.3],[73.5345,3.0],[73.54,2.0],[73.55,1.5],[73.5631,1.5]];
const genesD = [
  { name: "CDH23", strand: "+", row: 0, start: 73.1567, end: 73.5757, labelAt: 73.3700, exons: [[73.3715,73.3722],[73.4023,73.4030],[73.4318,73.4323],[73.4357,73.4362],[73.4395,73.4400],[73.4433,73.4438],[73.4497,73.4502],[73.4541,73.4546],[73.4587,73.4593],[73.4625,73.4630],[73.4689,73.4694],[73.4741,73.4746],[73.4797,73.4802],[73.4838,73.4843],[73.4895,73.4900],[73.4947,73.4952],[73.5382,73.5387],[73.5420,73.5425],[73.5459,73.5464],[73.5497,73.5502],[73.5548,73.5553],[73.5587,73.5592],[73.5626,73.5631]] },
  { name: "C10orf105", strand: "-", row: 1, start: 73.4680, end: 73.4898, exons: [[73.4680,73.4744],[73.4895,73.4898]] },
  { name: "VSIR", strand: "-", row: 1, start: 73.5039, end: 73.5295, exons: [[73.5039,73.5090],[73.5130,73.5135],[73.5220,73.5225],[73.5290,73.5295]] },
  { name: "MIR7152", strand: "+", row: 1, start: 73.5470, end: 73.5473, exons: [[73.5470,73.5473]] }
];

// panel E: chr15, rs35985016
const xTicksE = [101.45, 101.5, 101.55, 101.6];
const eLead = [101.5288, 7.68];
const eRed = [[101.5503,6.18]];
const eOrange = [[101.5352,3.89]];
const eGreen = [];
const eBlue = [[101.5059,4.64],[101.4727,1.06],[101.4804,0.02]];
const eNavyHigh = [[101.5059,4.28],[101.4311,3.00],[101.4753,3.11],[101.5416,2.67],[101.5550,4.15],[101.5531,3.66],[101.5540,3.50],[101.5556,3.33],[101.5565,3.10],[101.5582,3.00],[101.5575,3.55],[101.5525,3.05],[101.5658,2.27],[101.5735,3.51],[101.5742,4.22],[101.5747,3.22],[101.5790,4.55],[101.5849,4.88],[101.5857,4.92],[101.5875,4.10],[101.5885,3.85],[101.5893,4.15],[101.5903,3.90],[101.5910,3.95],[101.5926,4.00],[101.5935,4.05],[101.5824,4.33],[101.5830,2.90],[101.5863,3.10],[101.5895,3.30],[101.5915,3.45],[101.5952,3.55],[101.5960,3.45],[101.5965,3.30],[101.5970,3.00],[101.5983,2.95],[101.5995,2.85],[101.6028,2.89],[101.6050,2.89],[101.6062,2.85],[101.5989,5.32],[101.5992,5.15],[101.5957,4.55],[101.6036,4.59],[101.6059,4.94],[101.6068,4.75],[101.6099,5.20],[101.6110,4.22],[101.6143,3.00],[101.6150,2.34],[101.6186,2.45],[101.5819,1.96],[101.5761,2.40],[101.5589,2.16],[101.5640,1.80],[101.5700,1.70],[101.5780,1.50],[101.5920,2.10],[101.6000,1.90],[101.6080,1.70],[101.6010,4.35],[101.5965,4.20],[101.4400,1.70],[101.4460,1.80],[101.4480,1.75],[101.4520,1.78],[101.4580,2.00],[101.4530,1.40],[101.4620,1.10],[101.4680,1.20],[101.4780,1.30],[101.4840,1.40],[101.4900,1.60],[101.4950,1.50],[101.5000,1.70],[101.5060,1.50],[101.5100,1.90],[101.5140,1.80],[101.5170,1.70],[101.5200,1.90],[101.5230,1.60],[101.5260,1.85],[101.5290,1.70],[101.5320,1.60],[101.5350,1.50],[101.5380,1.30],[101.5400,1.40],[101.5430,1.10],[101.5450,1.70]];
const eGray = [[101.6021,2.38],[101.6050,1.68],[101.6075,1.52],[101.6090,1.55],[101.6100,1.50],[101.6125,1.90],[101.6150,1.85],[101.6140,1.55],[101.4720,0.60],[101.4850,0.30],[101.4930,0.50],[101.5000,0.20],[101.5050,0.60],[101.5120,0.40],[101.5200,0.70],[101.5250,0.30],[101.5300,0.90],[101.5350,0.50],[101.5400,0.60],[101.5480,0.90],[101.5520,0.30],[101.5600,0.40],[101.5680,0.60],[101.5750,0.20],[101.5860,0.50],[101.5930,0.70],[101.6150,1.00],[101.6200,0.50],[101.6250,0.80],[101.4350,0.40],[101.4450,0.60]];
const eNavy = [[101.4290,0.7],[101.4299,0.1],[101.4308,1.2],[101.4317,0.4],[101.4326,0.9],[101.4335,0.0],[101.4344,1.3],[101.4353,0.5],[101.4362,0.2],[101.4371,1.0],[101.4380,0.6],[101.4389,1.4],[101.4398,0.3],[101.4407,0.8],[101.4416,0.0],[101.4425,1.1],[101.4434,0.4],[101.4443,0.7],[101.4452,1.3],[101.4461,0.2],[101.4470,0.9],[101.4479,0.5],[101.4488,1.2],[101.4497,0.1],[101.4506,0.6],[101.4515,1.0],[101.4524,0.3],[101.4533,0.8],[101.4542,1.4],[101.4551,0.0],[101.4560,0.5],[101.4569,1.1],[101.4578,0.7],[101.4587,0.2],[101.4596,0.9],[101.4605,0.4],[101.4614,0.1],[101.4623,0.6],[101.4632,0.3],[101.4641,0.8],[101.4650,0.0],[101.4659,0.5],[101.4668,0.9],[101.4677,0.2],[101.4686,0.6],[101.4695,0.1],[101.4704,0.7],[101.4713,0.4],[101.4722,0.9],[101.4731,0.0],[101.4740,0.5],[101.4749,0.8],[101.4758,0.3],[101.4767,1.0],[101.4776,0.1],[101.4785,0.6],[101.4794,0.4],[101.4803,0.9],[101.4812,0.2],[101.4821,1.1],[101.4830,0.5],[101.4839,0.0],[101.4848,0.8],[101.4857,1.2],[101.4866,0.3],[101.4875,0.7],[101.4884,0.1],[101.4893,1.0],[101.4902,0.4],[101.4911,1.3],[101.4920,0.6],[101.4929,0.2],[101.4938,0.9],[101.4947,1.2],[101.4956,0.0],[101.4965,0.5],[101.4974,1.1],[101.4983,0.7],[101.4992,0.3],[101.5001,1.4],[101.5010,0.8],[101.5019,0.1],[101.5028,1.0],[101.5037,0.5],[101.5046,1.3],[101.5055,0.2],[101.5064,0.9],[101.5073,0.6],[101.5082,1.2],[101.5091,0.0],[101.5100,0.7],[101.5109,1.4],[101.5118,0.4],[101.5127,1.1],[101.5136,0.2],[101.5145,0.8],[101.5154,1.3],[101.5163,0.5],[101.5172,0.1],[101.5181,1.0],[101.5190,0.6],[101.5199,1.4],[101.5208,0.3],[101.5217,0.9],[101.5226,1.2],[101.5235,0.0],[101.5244,0.7],[101.5253,1.1],[101.5262,0.4],[101.5271,1.3],[101.5280,0.2],[101.5289,0.8],[101.5298,1.0],[101.5307,0.5],[101.5316,1.2],[101.5325,0.1],[101.5334,0.9],[101.5343,0.6],[101.5352,1.1],[101.5361,0.3],[101.5370,0.8],[101.5379,0.0],[101.5388,1.0],[101.5397,0.4],[101.5406,0.7],[101.5415,0.2],[101.5424,0.9],[101.5433,0.5],[101.5442,0.1],[101.5451,0.8],[101.5460,0.3],[101.5469,0.6],[101.5478,0.0],[101.5487,0.7],[101.5496,0.4],[101.5505,0.2],[101.5514,0.9],[101.5523,0.1],[101.5532,0.5],[101.5541,0.8],[101.5550,0.3],[101.5559,0.6],[101.5568,0.0],[101.5577,0.4],[101.5586,0.7],[101.5595,0.2],[101.5604,0.5],[101.5613,0.1],[101.5622,0.8],[101.5631,0.3],[101.5640,0.6],[101.5649,0.0],[101.5658,0.4],[101.5667,0.9],[101.5676,0.2],[101.5685,0.6],[101.5694,0.1],[101.5703,0.5],[101.5712,0.8],[101.5721,0.3],[101.5730,0.0],[101.5739,0.7],[101.5748,0.4],[101.5757,0.9],[101.5766,0.2],[101.5775,0.6],[101.5784,0.1],[101.5793,0.8],[101.5802,0.4],[101.5811,0.0],[101.5820,0.6],[101.5829,0.3],[101.5838,0.9],[101.5847,0.1],[101.5856,0.5],[101.5865,0.8],[101.5874,0.2],[101.5883,0.6],[101.5892,0.0],[101.5901,0.4],[101.5910,0.9],[101.5919,0.3],[101.5928,0.7],[101.5937,0.1],[101.5946,0.5],[101.5955,1.0],[101.5964,0.2],[101.5973,0.6],[101.5982,0.9],[101.5991,0.4],[101.6000,0.0],[101.6009,0.7],[101.6018,1.1],[101.6027,0.3],[101.6036,0.8],[101.6045,0.5],[101.6054,1.2],[101.6063,0.1],[101.6072,0.9],[101.6081,0.6],[101.6090,1.3],[101.6099,0.2],[101.6108,1.0],[101.6117,0.7],[101.6126,1.4],[101.6135,0.4],[101.6144,1.1],[101.6153,0.8],[101.6162,1.5],[101.6171,0.3],[101.6180,1.2],[101.6189,0.9],[101.6198,1.6],[101.6207,0.5],[101.6216,1.3],[101.6225,1.0],[101.6234,0.6],[101.6243,1.4],[101.6252,0.2],[101.6261,1.1],[101.6270,0.8],[101.6279,1.3]];
const eNavy2 = [[101.4291,0.35],[101.4310,0.95],[101.4323,0.15],[101.4346,1.40],[101.4361,0.65],[101.4382,0.25],[101.4395,1.10],[101.4418,0.55],[101.4431,0.05],[101.4454,0.85],[101.4468,1.30],[101.4491,0.45],[101.4503,0.75],[101.4527,0.20],[101.4540,1.05],[101.4563,0.60],[101.4575,1.40],[101.4599,0.30],[101.4611,0.90],[101.4635,0.10],[101.4647,1.20],[101.4671,0.50],[101.4683,0.70],[101.4707,1.35],[101.4720,0.00],[101.4743,0.80],[101.4755,0.40],[101.4779,1.15],[101.4791,0.60],[101.4815,0.25],[101.4827,1.00],[101.4851,0.45],[101.4863,1.40],[101.4887,0.10],[101.4900,0.70],[101.4923,1.25],[101.4935,0.35],[101.4959,0.95],[101.4971,0.05],[101.4995,0.55],[101.5007,1.10],[101.5031,0.80],[101.5043,0.20],[101.5067,1.35],[101.5080,0.65],[101.5103,0.40],[101.5115,0.90],[101.5139,0.15],[101.5151,1.05],[101.5175,0.50],[101.5187,0.75],[101.5211,0.30],[101.5223,1.20],[101.5247,0.00],[101.5260,0.85],[101.5283,0.45],[101.5295,1.00],[101.5319,0.20],[101.5331,0.65],[101.5355,1.15],[101.5367,0.35],[101.5391,0.80],[101.5403,0.10],[101.5427,0.50],[101.5440,0.95],[101.5463,0.25],[101.5475,0.70],[101.5499,1.10],[101.5511,0.40],[101.5535,0.05],[101.5547,0.85],[101.5571,1.25],[101.5583,0.55],[101.5607,0.30],[101.5620,1.05],[101.5643,0.75],[101.5655,0.15],[101.5679,1.30],[101.5691,0.60],[101.5715,0.35],[101.5727,0.90],[101.5751,1.20],[101.5763,0.45],[101.5787,0.45],[101.5800,1.05],[101.5823,0.25],[101.5835,0.75],[101.5859,1.35],[101.5871,0.05],[101.5895,0.55],[101.5907,0.95],[101.5931,0.35],[101.5943,1.25],[101.5967,0.15],[101.5980,0.65],[101.6003,1.15],[101.6015,0.85],[101.6039,0.30],[101.6051,1.45],[101.6075,0.60],[101.6087,0.10],[101.6111,1.00],[101.6123,0.50],[101.6147,0.20],[101.6160,1.30],[101.6183,0.70],[101.6195,0.40],[101.6219,0.90],[101.6231,0.00],[101.6255,1.20],[101.6267,0.80]];
const eRecomb = [[101.4286,0.8],[101.45,0.5],[101.48,0.3],[101.51,0.4],[101.5505,0.5],[101.5510,23.3],[101.5545,23.3],[101.5550,0.5],[101.58,0.3],[101.605,0.3],[101.6130,0.5],[101.6150,8.6],[101.6175,9.0],[101.6180,21.5],[101.6200,21.5],[101.6205,0.6],[101.629,1.0]];
const genesE = [
  { name: "ALDH1A3", strand: "+", row: 0, start: 101.4187, end: 101.4565, exons: [[101.4317,101.4322],[101.4355,101.4360],[101.4394,101.4399],[101.4432,101.4437],[101.4483,101.4488],[101.4555,101.4565]] },
  { name: "LRRK1", strand: "+", row: 0, start: 101.4594, end: 101.6104, exons: [[101.4643,101.4648],[101.5133,101.5137],[101.5235,101.5239],[101.5490,101.5494],[101.5516,101.5520],[101.5541,101.5545],[101.5572,101.5577],[101.5618,101.5622],[101.5656,101.5660],[101.5682,101.5686],[101.5860,101.5864],[101.5886,101.5890],[101.5911,101.5915],[101.5937,101.5941],[101.5962,101.5966],[101.6000,101.6004],[101.6048,101.6130]] },
  { name: "LOC101927797", strand: "-", row: 1, start: 101.4319, end: 101.4587, exons: [[101.4319,101.4390],[101.4520,101.4540],[101.4560,101.4587]] }
];

// ---------- styles ----------
const ldColors = ["#000080", "#87CEFA", "#00FF00", "#FFA500", "#FF0000"];
const grayFill = "#9b9b9b";
const leadFill = "#9400D3";
const recBlue = "#5555ff";
const axisBlue = "#3b3bff";
const frameGray = "#c6c6c6";
const textColor = "#222";
const fontFamily = "Liberation Sans, Arial, sans-serif";

const panels = [
  { letter: "A", chr: 15, snp: "rs11553760", lead: aLead, xDomain: [74.99234, 75.19219], xTicks: xTicksA, yMax: 10, yTicks: yTicks10,
    layers: [aNavy, aNavy2, aGray, aNavyHigh, aBlue, aGreen, aOrange, aRed], recomb: aRecomb, genes: genesA,
    L: { left: 40, right: 301, top: 7, bottom: 163, y0: 157, yTop: 15, rTop: 15, geneTop: 167, geneBottom: 198, rows: [174.7, 186, 196.2],
         legendX: 42, legendY: 9, letterX: 1, letterY: 8, yTitleX: 15, xTickBase: 212, xTitleBase: 222 } },
  { letter: "B", chr: 8, snp: "rs2272736", lead: bLead, xDomain: [42.07473, 42.27458], xTicks: xTicksB, yMax: 10, yTicks: yTicks10,
    layers: [bNavy, bNavy2, bGray, bNavyHigh, bBlue, bGreen, bOrange, bRed], recomb: bRecomb, genes: genesB,
    L: { left: 395, right: 656, top: 7, bottom: 174, y0: 167, yTop: 31, rTop: 15, geneTop: 177.5, geneBottom: 199.5, rows: [185, 195.3],
         legendX: 632, legendY: 9, letterX: 356, letterY: 8, yTitleX: 359, xTickBase: 211.5, xTitleBase: 222 } },
  { letter: "C", chr: 19, snp: "rs55882956", lead: cLead, xDomain: [10.36692, 10.56923], xTicks: xTicksC, yMax: 15, yTicks: yTicks15,
    layers: [cNavy, cNavy2, cGray, cNavyHigh, cBlue, cGreen, cOrange, cRed], recomb: cRecomb, genes: genesC,
    L: { left: 39, right: 302, top: 267, bottom: 421, y0: 414, yTop: 294, rTop: 273, geneTop: 424.5, geneBottom: 458, rows: [430, 443.3, 452.3],
         legendX: 277, legendY: 268, letterX: 2, letterY: 267, yTitleX: 16, xTickBase: 467, xTitleBase: 480 } },
  { letter: "D", chr: 10, snp: "rs10823829", lead: dLead, xDomain: [73.36308, 73.56308], xTicks: xTicksD, yMax: 10, yTicks: yTicks10,
    layers: [dNavy, dNavy2, dGray, dNavyHigh, dBlue, dGreen, dOrange, dRed], recomb: dRecomb, genes: genesD,
    L: { left: 395, right: 655, top: 268, bottom: 432, y0: 426, yTop: 274, rTop: 274, geneTop: 435, geneBottom: 458, rows: [440.3, 454.7],
         legendX: 397, legendY: 269, letterX: 358, letterY: 267, yTitleX: 372, xTickBase: 469, xTitleBase: 481 } },
  { letter: "E", chr: 15, snp: "rs35985016", lead: eLead, xDomain: [101.42858, 101.62903], xTicks: xTicksE, yMax: 10, yTicks: yTicks10,
    layers: [eNavy, eNavy2, eGray, eNavyHigh, eBlue, eGreen, eOrange, eRed], recomb: eRecomb, genes: genesE,
    L: { left: 39, right: 301, top: 523, bottom: 690, y0: 682, yTop: 531, rTop: 531, geneTop: 693, geneBottom: 714.5, rows: [702, 712],
         legendX: 42, legendY: 526, letterX: 2, letterY: 525, yTitleX: 16, xTickBase: 725, xTitleBase: 737 } }
];
// layer order: navy band (two passes), gray, upper navy, then rising r2 classes
const layerFill = [ldColors[0], ldColors[0], grayFill, ldColors[0], ldColors[1], ldColors[2], ldColors[3], ldColors[4]];

const svg = d3.select("#fig");

const drawLegend = (g, lx, ly) => {
  const lg = g.append("g").attr("class", "legend");
  lg.append("rect").attr("x", lx).attr("y", ly).attr("width", 22).attr("height", 53)
    .attr("fill", "#fff").attr("stroke", "#a8a8a8").attr("stroke-width", 0.7);
  const t = lg.append("text").attr("x", lx + 4.5).attr("y", ly + 8).attr("font-size", 6.2).attr("fill", textColor);
  t.append("tspan").attr("font-style", "italic").text("r");
  t.append("tspan").attr("font-size", 4).attr("dy", -2.4).text("2");
  const sq = 8.1, top = ly + 10.3;
  ldColors.slice().reverse().forEach((c, i) => {
    lg.append("rect").attr("x", lx + 3).attr("y", top + i * sq).attr("width", 5.5).attr("height", sq).attr("fill", c);
  });
  ldBreaks.forEach((v, k) => {
    const yy = top + (k + 1) * sq;
    lg.append("line").attr("x1", lx + 8.5).attr("x2", lx + 10.3).attr("y1", yy).attr("y2", yy)
      .attr("stroke", "#444").attr("stroke-width", 0.5);
    lg.append("text").attr("x", lx + 10.6).attr("y", yy).attr("dy", "0.35em")
      .attr("font-size", 5.6).attr("fill", textColor).text(v.toFixed(1));
  });
};

const drawGenes = (g, p, x) => {
  const L = p.L;
  g.append("rect").attr("x", L.left).attr("y", L.geneTop)
    .attr("width", L.right - L.left).attr("height", L.geneBottom - L.geneTop)
    .attr("fill", "none").attr("stroke", frameGray).attr("stroke-width", 0.8);
  p.genes.forEach((gene) => {
    const ry = L.rows[gene.row];
    const x0 = Math.max(x(gene.start), L.left);
    const x1 = Math.min(x(gene.end), L.right);
    g.append("line").attr("x1", x0).attr("x2", Math.max(x1, x0 + 0.6)).attr("y1", ry).attr("y2", ry)
      .attr("stroke", "#3535c8").attr("stroke-width", 0.6);
    gene.exons.forEach((e) => {
      const e0 = Math.max(x(e[0]), L.left), e1 = Math.min(x(e[1]), L.right);
      if (e1 < L.left || e0 > L.right) return;
      g.append("rect").attr("x", e0).attr("y", ry - 1.3).attr("width", Math.max(e1 - e0, 0.7)).attr("height", 2.6)
        .attr("fill", "#1e1e9e");
    });
    const label = gene.strand === "+" ? `${gene.name}\u2192` : `\u2190 ${gene.name}`;
    const lab = g.append("text").attr("y", ry - 3).attr("text-anchor", "middle")
      .attr("font-size", 4.6).attr("font-style", "italic").attr("fill", "#333").text(label);
    const w = lab.node().getComputedTextLength();
    let cx = gene.labelAt !== undefined ? x(gene.labelAt) : (x0 + x1) / 2;
    cx = Math.max(L.left + w / 2 + 1, Math.min(L.right - w / 2 - 1, cx));
    lab.attr("x", cx);
  });
};

const drawPanel = (p) => {
  const L = p.L;
  const x = d3.scaleLinear().domain(p.xDomain).range([L.left, L.right]);
  const y = d3.scaleLinear().domain([0, p.yMax]).range([L.y0, L.yTop]);
  const r = d3.scaleLinear().domain([0, 100]).range([L.y0, L.rTop]);
  const g = svg.append("g").attr("id", "panel" + p.letter);
  const midY = (L.top + L.bottom) / 2;

  g.append("clipPath").attr("id", "clip" + p.letter).append("rect")
    .attr("x", L.left).attr("y", L.top).attr("width", L.right - L.left).attr("height", L.bottom - L.top);

  const plot = g.append("g").attr("clip-path", `url(#clip${p.letter})`);

  // recombination rate
  plot.append("path").datum(p.recomb)
    .attr("fill", "none").attr("stroke", recBlue).attr("stroke-width", 0.8)
    .attr("d", d3.line().x((d) => x(d[0])).y((d) => r(d[1])));

  // SNPs, low r2 first
  p.layers.forEach((data, i) => {
    plot.append("g").selectAll("circle").data(data).join("circle")
      .attr("cx", (d) => x(d[0])).attr("cy", (d) => y(d[1])).attr("r", 2.2)
      .attr("fill", layerFill[i]).attr("stroke", layerFill[i] === grayFill ? "#555" : "#111").attr("stroke-width", 0.3);
  });

  // lead SNP
  plot.append("path")
    .attr("d", d3.symbol(d3.symbolDiamond, 13)())
    .attr("transform", `translate(${x(p.lead[0])},${y(p.lead[1])})`)
    .attr("fill", leadFill).attr("stroke", "#333").attr("stroke-width", 0.4);
  g.append("text").attr("x", x(p.lead[0])).attr("y", y(p.lead[1]) - 4.2)
    .attr("text-anchor", "middle").attr("font-size", 8.2).attr("fill", textColor).text(p.snp);

  // frame
  g.append("rect").attr("x", L.left).attr("y", L.top)
    .attr("width", L.right - L.left).attr("height", L.bottom - L.top)
    .attr("fill", "none").attr("stroke", frameGray).attr("stroke-width", 0.8);

  // left axis
  g.append("g").attr("transform", `translate(${L.left},0)`)
    .call(d3.axisLeft(y).tickValues(p.yTicks).tickSize(3.5).tickPadding(1.5))
    .call((a) => a.select(".domain").remove())
    .call((a) => a.selectAll("text").attr("font-size", 8.2).attr("font-family", fontFamily).attr("fill", textColor))
    .call((a) => a.selectAll("line").attr("stroke", "#555").attr("stroke-width", 0.6));

  // right axis (recombination)
  g.append("g").attr("transform", `translate(${L.right},0)`).attr("color", axisBlue)
    .call(d3.axisRight(r).tickValues(recTicks).tickSize(3.5).tickSizeOuter(0).tickPadding(1.5))
    .call((a) => a.select(".domain").attr("stroke-width", 0.6))
    .call((a) => a.selectAll("text").attr("font-size", 8.2).attr("font-family", fontFamily))
    .call((a) => a.selectAll("line").attr("stroke-width", 0.6));

  drawLegend(g, L.legendX, L.legendY);
  drawGenes(g, p, x);

  // x axis under the gene track
  const fs = 8.2;
  g.append("g").attr("transform", `translate(0,${L.geneBottom})`)
    .call(d3.axisBottom(x).tickValues(p.xTicks).tickSize(3)
      .tickPadding(L.xTickBase - L.geneBottom - 3 - 0.71 * fs).tickFormat((d) => String(d)))
    .call((a) => a.select(".domain").remove())
    .call((a) => a.selectAll("text").attr("font-size", fs).attr("font-family", fontFamily).attr("fill", textColor))
    .call((a) => a.selectAll("line").attr("stroke", "#555").attr("stroke-width", 0.6));

  // titles
  g.append("text").attr("x", (L.left + L.right) / 2).attr("y", L.xTitleBase)
    .attr("text-anchor", "middle").attr("font-size", 8.6).attr("fill", textColor)
    .text(`Position on chromosome ${p.chr} (Mb)`);

  const yt = g.append("text").attr("transform", `translate(${L.yTitleX},${midY}) rotate(-90)`)
    .attr("text-anchor", "middle").attr("dy", "0.35em").attr("font-size", 9).attr("fill", textColor);
  yt.append("tspan").text("\u2212log");
  yt.append("tspan").attr("font-size", 6.3).attr("dy", 2.2).text("10");
  yt.append("tspan").attr("dy", -2.2).text("(");
  yt.append("tspan").attr("font-style", "italic").text("P");
  yt.append("tspan").text(" value)");

  g.append("text").attr("transform", `translate(${L.right + 25},${midY}) rotate(90)`)
    .attr("text-anchor", "middle").attr("dy", "0.35em").attr("font-size", 9).attr("fill", axisBlue)
    .text("Recombination rate (cM/Mb)");

  g.append("text").attr("x", L.letterX).attr("y", L.letterY)
    .attr("font-size", 9.5).attr("font-weight", "bold").attr("fill", "#000").text(p.letter);
};

panels.forEach(drawPanel);
</script>
</body>
</html>
